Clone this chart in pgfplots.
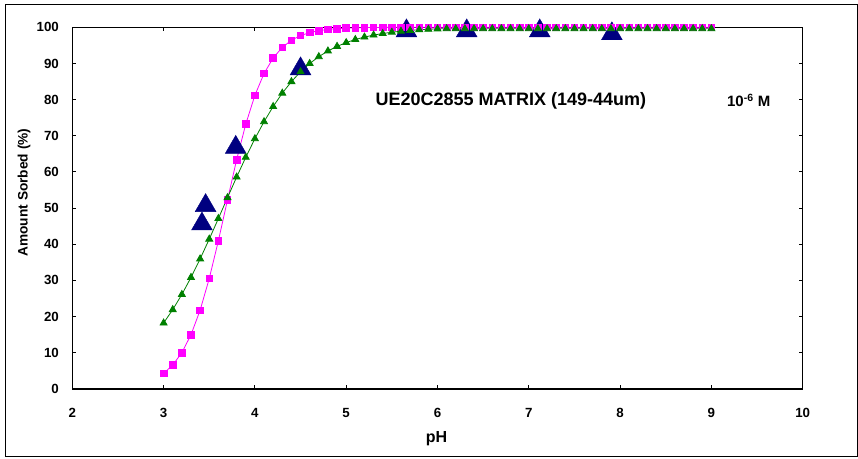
\documentclass[border=0pt]{standalone}
\usepackage{fontspec}
\setmainfont{Liberation Sans}
\usepackage{pgfplots}
\pgfplotsset{compat=1.18}
\definecolor{mag}{HTML}{FF00FF}
\definecolor{grn}{HTML}{008000}
\definecolor{nav}{HTML}{000080}
\begin{document}
\begin{tikzpicture}
\begin{axis}[
  scale only axis, width=730.5pt, height=361.7pt,
  xmin=2, xmax=10, ymin=0, ymax=100,
  xtick={2,3,4,5,6,7,8,9,10}, ytick={0,10,20,30,40,50,60,70,80,90,100},
  tick align=inside, major tick length=4pt,
  axis line style={line width=1.5pt},
  every tick/.style={black, line width=1pt},
  /pgf/number format/assume math mode=true,
  tick label style={font=\fontsize{13.3}{13.3}\selectfont\bfseries},
  yticklabel style={anchor=east, inner sep=0pt, xshift=-13.3pt},
  xticklabel style={anchor=north, inner sep=0pt, yshift=-19pt},
  xlabel={pH}, ylabel={Amount Sorbed (\%)},
  xlabel style={font=\fontsize{16}{16}\selectfont\bfseries, at={(axis description cs:0.4988,-0.138)}, anchor=center},
  ylabel style={font=\fontsize{13.7}{13.7}\selectfont\bfseries, at={(axis description cs:-0.0661,0.543)}, anchor=center},
  clip=false,
]
\path (axis cs:1.208,-19.34) rectangle (axis cs:10.606,107.54);
\draw[line width=0.8pt] (axis cs:1.268,-18.8) rectangle (axis cs:10.595,106.4);

\addplot[only marks, mark=triangle*, mark size=12pt, color=nav, fill=nav] coordinates {
(3.42,45.6) (3.46,50.7) (3.79,66.8) (4.50,88.5) (5.66,99.0) (6.32,99.0) (7.12,99.0) (7.91,98.2)
};

\addplot[color=mag, line width=0.8pt, mark=square*, mark size=3.3pt, mark options={fill=mag, draw=mag}] coordinates {
(3.0,4.28) (3.1,6.60) (3.2,10.03) (3.3,14.97) (3.4,21.76) (3.5,30.52) (3.6,40.96) (3.7,52.28)
(3.8,63.38) (3.9,73.21) (4.0,81.19) (4.1,87.21) (4.2,91.50) (4.3,94.45) (4.4,96.41) (4.5,97.70)
(4.6,98.53) (4.7,99.06) (4.8,99.40) (4.9,99.62) (5.0,99.76) (5.1,99.85) (5.2,99.90) (5.3,99.94)
(5.4,99.96) (5.5,99.98) (5.6,99.99) (5.7,100) (5.8,100) (5.9,100) (6.0,100) (6.1,100) (6.2,100)
(6.3,100) (6.4,100) (6.5,100) (6.6,100) (6.7,100) (6.8,100) (6.9,100) (7.0,100) (7.1,100)
(7.2,100) (7.3,100) (7.4,100) (7.5,100) (7.6,100) (7.7,100) (7.8,100) (7.9,100) (8.0,100)
(8.1,100) (8.2,100) (8.3,100) (8.4,100) (8.5,100) (8.6,100) (8.7,100) (8.8,100) (8.9,100) (9.0,100)
};

\addplot[color=grn, line width=0.8pt, mark=triangle*, mark size=4pt, mark options={fill=grn, draw=grn}] coordinates {
(3.0,18.22) (3.1,21.92) (3.2,26.12) (3.3,30.82) (3.4,35.95) (3.5,41.42) (3.6,47.11) (3.7,52.89)
(3.8,58.58) (3.9,64.05) (4.0,69.18) (4.1,73.88) (4.2,78.08) (4.3,81.78) (4.4,84.97) (4.5,87.69)
(4.6,89.98) (4.7,91.87) (4.8,93.44) (4.9,94.72) (5.0,95.76) (5.1,96.61) (5.2,97.29) (5.3,97.84)
(5.4,98.27) (5.5,98.63) (5.6,98.91) (5.7,99.13) (5.8,99.31) (5.9,99.45) (6.0,99.55) (6.1,99.6)
(6.2,99.6) (6.3,99.6) (6.4,99.6) (6.5,99.6) (6.6,99.6) (6.7,99.6) (6.8,99.6) (6.9,99.6) (7.0,99.6)
(7.1,99.6) (7.2,99.6) (7.3,99.6) (7.4,99.6) (7.5,99.6) (7.6,99.6) (7.7,99.6) (7.8,99.6) (7.9,99.6)
(8.0,99.6) (8.1,99.6) (8.2,99.6) (8.3,99.6) (8.4,99.6) (8.5,99.6) (8.6,99.6) (8.7,99.6) (8.8,99.6)
(8.9,99.6) (9.0,99.6)
};

\node[anchor=base, font=\fontsize{18}{18}\selectfont\bfseries] at (axis cs:6.804,78.45) {UE20C2855 MATRIX (149-44um)};
\node[anchor=base, font=\fontsize{15}{15}\selectfont\bfseries] at (axis cs:9.409,78.0) {10\textsuperscript{-6} M};
\end{axis}
\end{tikzpicture}
\end{document}
